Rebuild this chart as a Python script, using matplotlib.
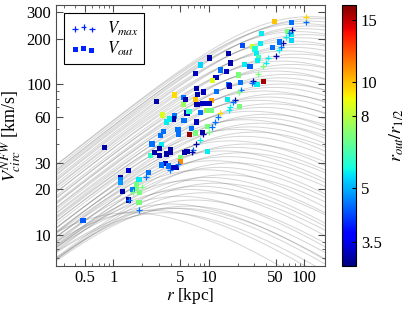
import numpy as np
import matplotlib
matplotlib.use("Agg")
import matplotlib.pyplot as plt
from matplotlib.colors import LogNorm
from matplotlib.ticker import LogLocator, NullFormatter, FixedLocator, FixedFormatter

plt.rcParams["font.family"] = ["Liberation Serif", "DejaVu Serif"]
plt.rcParams["mathtext.fontset"] = "stix"

# NFW halo curves (peak radius [kpc], peak velocity [km/s])
curve_rmax = [1.5, 2.5, 4, 6, 3.5, 5, 4, 7, 5, 9, 6, 8, 12, 7, 10, 15, 9, 13, 18, 11,
              16, 22, 14, 19, 25, 17, 23, 30, 20, 27, 35, 24, 32, 40, 28, 37, 45, 33,
              42, 52, 38, 48, 58, 44, 55, 65, 50, 62, 75, 58, 70, 85, 66, 80, 95, 75,
              90, 105, 85, 100, 115, 95, 110, 130, 115]
curve_vmax = [14, 14.5, 15, 15.5, 14, 15, 16, 17, 18, 19, 20, 21, 22, 23, 24, 25, 27, 28, 30, 31,
              33, 35, 36, 38, 40, 42, 45, 48, 50, 52, 55, 58, 60, 63, 66, 70, 74, 78,
              82, 86, 90, 95, 100, 105, 110, 116, 122, 128, 135, 142, 150, 158, 166, 175, 184, 193,
              203, 213, 223, 233, 243, 252, 262, 272, 280]

# V_out points: radius, velocity, r_out / r_1/2
out_r = [74, 48.7, 35.9, 67, 73, 55.5, 73, 35, 28.4, 22.6, 30.5, 46, 31.4, 16.2, 33, 32.6,
         10.2, 17, 23.5, 8.2, 27, 7.3, 13.3, 15.2, 20.6, 11.9, 10.9, 37.6, 32, 16, 21.4, 16.6,
         7.4, 8.8, 12.1, 7.6, 2.84, 4.4, 5.4, 5.7, 7.3, 10.7, 8.6, 9.3, 10.2, 7.5, 5.4, 15.7,
         21, 9.4, 5.9, 6.2, 9.8, 8.2, 10.6, 3.25, 4.4, 4.2, 3.9, 3.6, 7.4, 5.5, 9.6, 3.33,
         4.75, 6.6, 3.1, 4.8, 6.3, 7.3, 8.5, 3.2, 2.53, 3.05, 3.95, 3.95, 3.6, 2.43, 5.6, 5.9,
         5.0, 9.7, 3.05, 2.7, 5.0, 3.5, 3.2, 3.8, 4.3, 4.6, 2.33, 1.85, 1.75, 1.75, 1.88, 0.48,
         1.18, 1.18, 1.18, 1.43, 1.25, 1.57, 1.45, 1.85, 0.81]
out_v = [257, 261, 217, 223, 213, 190, 195, 185, 178, 180, 171, 174, 160, 159, 149, 144,
         149, 138, 135, 134, 130, 118, 124, 121, 115, 111, 105, 104, 99, 99, 102, 97,
         94, 88.5, 89, 85.5, 76.4, 84.5, 81, 79.4, 79.4, 77.4, 74.5, 74.5, 74.5, 73.4, 73.4, 79.4,
         70.8, 67, 64.3, 65.6, 66.5, 65, 67, 62.4, 61.4, 58.6, 58.6, 56, 56, 57, 52.5, 48.7,
         49.8, 50.9, 45.7, 46.5, 46.3, 47.4, 47.6, 39.8, 40, 37.5, 36.7, 35, 34.4, 33.7, 35, 35.6,
         32.4, 35.6, 33.4, 35, 30.6, 29.8, 29, 28.6, 28, 28, 25.9, 23.4, 21.4, 20.4, 19.1, 12.5,
         24.1, 23.2, 22.2, 26.7, 19.4, 20, 17, 16.4, 38]
out_ratio = [4.5, 10, 5.5, 7, 5.5, 4.5, 5.3, 5.5, 8.3, 4.2, 5.8, 4.5, 5.5, 3.2, 6.2, 5.5,
             3.2, 3.2, 5.5, 5.3, 4.3, 3.3, 4.5, 3.3, 7, 3.3, 8.5, 15.5, 5.5, 4.5, 4.5, 3.3,
             3.2, 3.3, 4.5, 3.2, 3.2, 9.5, 4.5, 3.2, 10, 10.5, 3.3, 3.3, 3.3, 3.2, 7.5, 5.5,
             7, 9.5, 3.2, 6, 7, 4.5, 7, 8.5, 4.5, 3.2, 5.5, 5.5, 3.3, 4.5, 7, 4.5,
             4.5, 4.5, 4.5, 4.5, 16, 7, 3.2, 5.5, 4.5, 3.2, 3.2, 3.2, 3.2, 6, 3.2, 3.2,
             7, 5.5, 3.2, 3.2, 11, 3.3, 4.5, 4.5, 3.3, 3.3, 4.5, 5.5, 7, 7, 7, 4.3,
             3.2, 4.6, 4.8, 3.4, 3.2, 4.6, 3.2, 7, 3.2]

# V_max points: radius, velocity, r_out / r_1/2
max_r = [104, 105, 74.3, 70, 64.6, 60.5, 56.9, 53.9, 50.5, 41.6, 39.8, 36.7, 32.5, 29.2,
         28.2, 21.7, 20.8, 18.8, 18, 16.6, 16.1, 13, 12.5, 11.6, 10.8, 10.1, 8.6, 8.0, 7.4,
         6.8, 6.6, 4.75, 3.9, 2.2, 2.0, 1.6, 1.47, 1.85]
max_v = [257, 278, 230, 217, 204, 188, 177, 168, 153, 150, 139, 131, 116, 105,
         102, 92, 89, 78.4, 76.4, 70.8, 67.3, 64, 60.7, 56, 52, 48.3, 46.6, 42.6, 40,
         36.6, 35.3, 29.5, 26.7, 24.1, 20.9, 19.1, 17, 14.6]
max_ratio = [4.5, 9.5, 3.2, 4.5, 5.5, 3.2, 4.5, 5.5, 3.2, 5.5, 5.5, 7, 7, 3.2,
             4.5, 4.5, 7, 3.2, 4.5, 5.5, 5.5, 9.5, 4.5, 4.5, 4.5, 7, 3.2, 5.5, 3.2,
             4.5, 3.2, 4.5, 4.5, 4.5, 7, 7, 4.5, 4.5]


def nfw_vc(r, rmax, vmax):
    x = r * 2.163 / rmax
    g = (np.log1p(x) - x / (1 + x)) / x
    g0 = (np.log(3.163) - 2.163 / 3.163) / 2.163
    return vmax * np.sqrt(g / g0)


fig = plt.figure(figsize=(4.07, 3.09), dpi=100)
ax = fig.add_axes([0.1376, 0.139, 0.661, 0.845])
cax = fig.add_axes([0.840, 0.139, 0.0344, 0.845])

rr = np.logspace(np.log10(0.2), np.log10(200), 300)
for rm, vm in zip(curve_rmax, curve_vmax):
    ax.plot(rr, nfw_vc(rr, rm, vm), color="0.4", alpha=0.28, lw=0.7, zorder=1)

norm = LogNorm(vmin=3.0, vmax=16.5)
sq = ax.scatter(out_r, out_v, c=out_ratio, cmap="jet", norm=norm, marker="s",
                s=14, linewidths=0, zorder=3, label=r"$V_{out}$")
pl = ax.scatter(max_r, max_v, c=max_ratio, cmap="jet", norm=norm, marker="+",
                s=18, linewidths=0.9, zorder=4, label=r"$V_{max}$")

ax.set_xscale("log")
ax.set_yscale("log")
ax.set_xlim(0.25, 165)
ax.set_ylim(6.2, 335)

ax.xaxis.set_major_locator(FixedLocator([0.5, 1, 5, 10, 50, 100]))
ax.xaxis.set_major_formatter(FixedFormatter(["0.5", "1", "5", "10", "50", "100"]))
ax.xaxis.set_minor_locator(LogLocator(base=10, subs=np.arange(2, 10)))
ax.xaxis.set_minor_formatter(NullFormatter())
ax.yaxis.set_major_locator(FixedLocator([10, 20, 30, 60, 100, 200, 300]))
ax.yaxis.set_major_formatter(FixedFormatter(["10", "20", "30", "60", "100", "200", "300"]))
ax.yaxis.set_minor_locator(LogLocator(base=10, subs=np.arange(2, 10)))
ax.yaxis.set_minor_formatter(NullFormatter())

ax.tick_params(which="both", direction="in", top=True, right=True, labelsize=12,
               color="0.3")
ax.tick_params(which="major", length=5)
ax.tick_params(which="minor", length=2.5)
ax.tick_params(axis="x", pad=3)
for sp in ax.spines.values():
    sp.set_color("0.3")

ax.set_xlabel(r"$r$ [kpc]", fontsize=12.5, labelpad=0)
ax.set_ylabel(r"$V_{circ}^{NFW}$ [km/s]", fontsize=13, labelpad=2)

leg = ax.legend(handles=[pl, sq], loc="upper left", scatterpoints=3, fancybox=False,
                edgecolor="k", framealpha=1, fontsize=12, borderaxespad=0.5,
                handletextpad=0.6, borderpad=0.35, labelspacing=0.15,
                handlelength=1.6)
leg.get_frame().set_linewidth(0.8)
for h in leg.legend_handles:
    h.set_array(None)
    h.set_facecolor("#0022ff")
    h.set_edgecolor("#0022ff")

cbar = fig.colorbar(sq, cax=cax, ticks=[3.5, 5, 8, 10, 15])
cbar.ax.minorticks_off()
cbar.set_ticklabels(["3.5", "5", "8", "10", "15"])
cbar.ax.tick_params(labelsize=12, length=3, direction="in")
cbar.outline.set_linewidth(0.8)
cbar.set_label(r"$r_{out}/r_{1/2}$", fontsize=13, labelpad=4)

fig.savefig("out.png", dpi=100)
